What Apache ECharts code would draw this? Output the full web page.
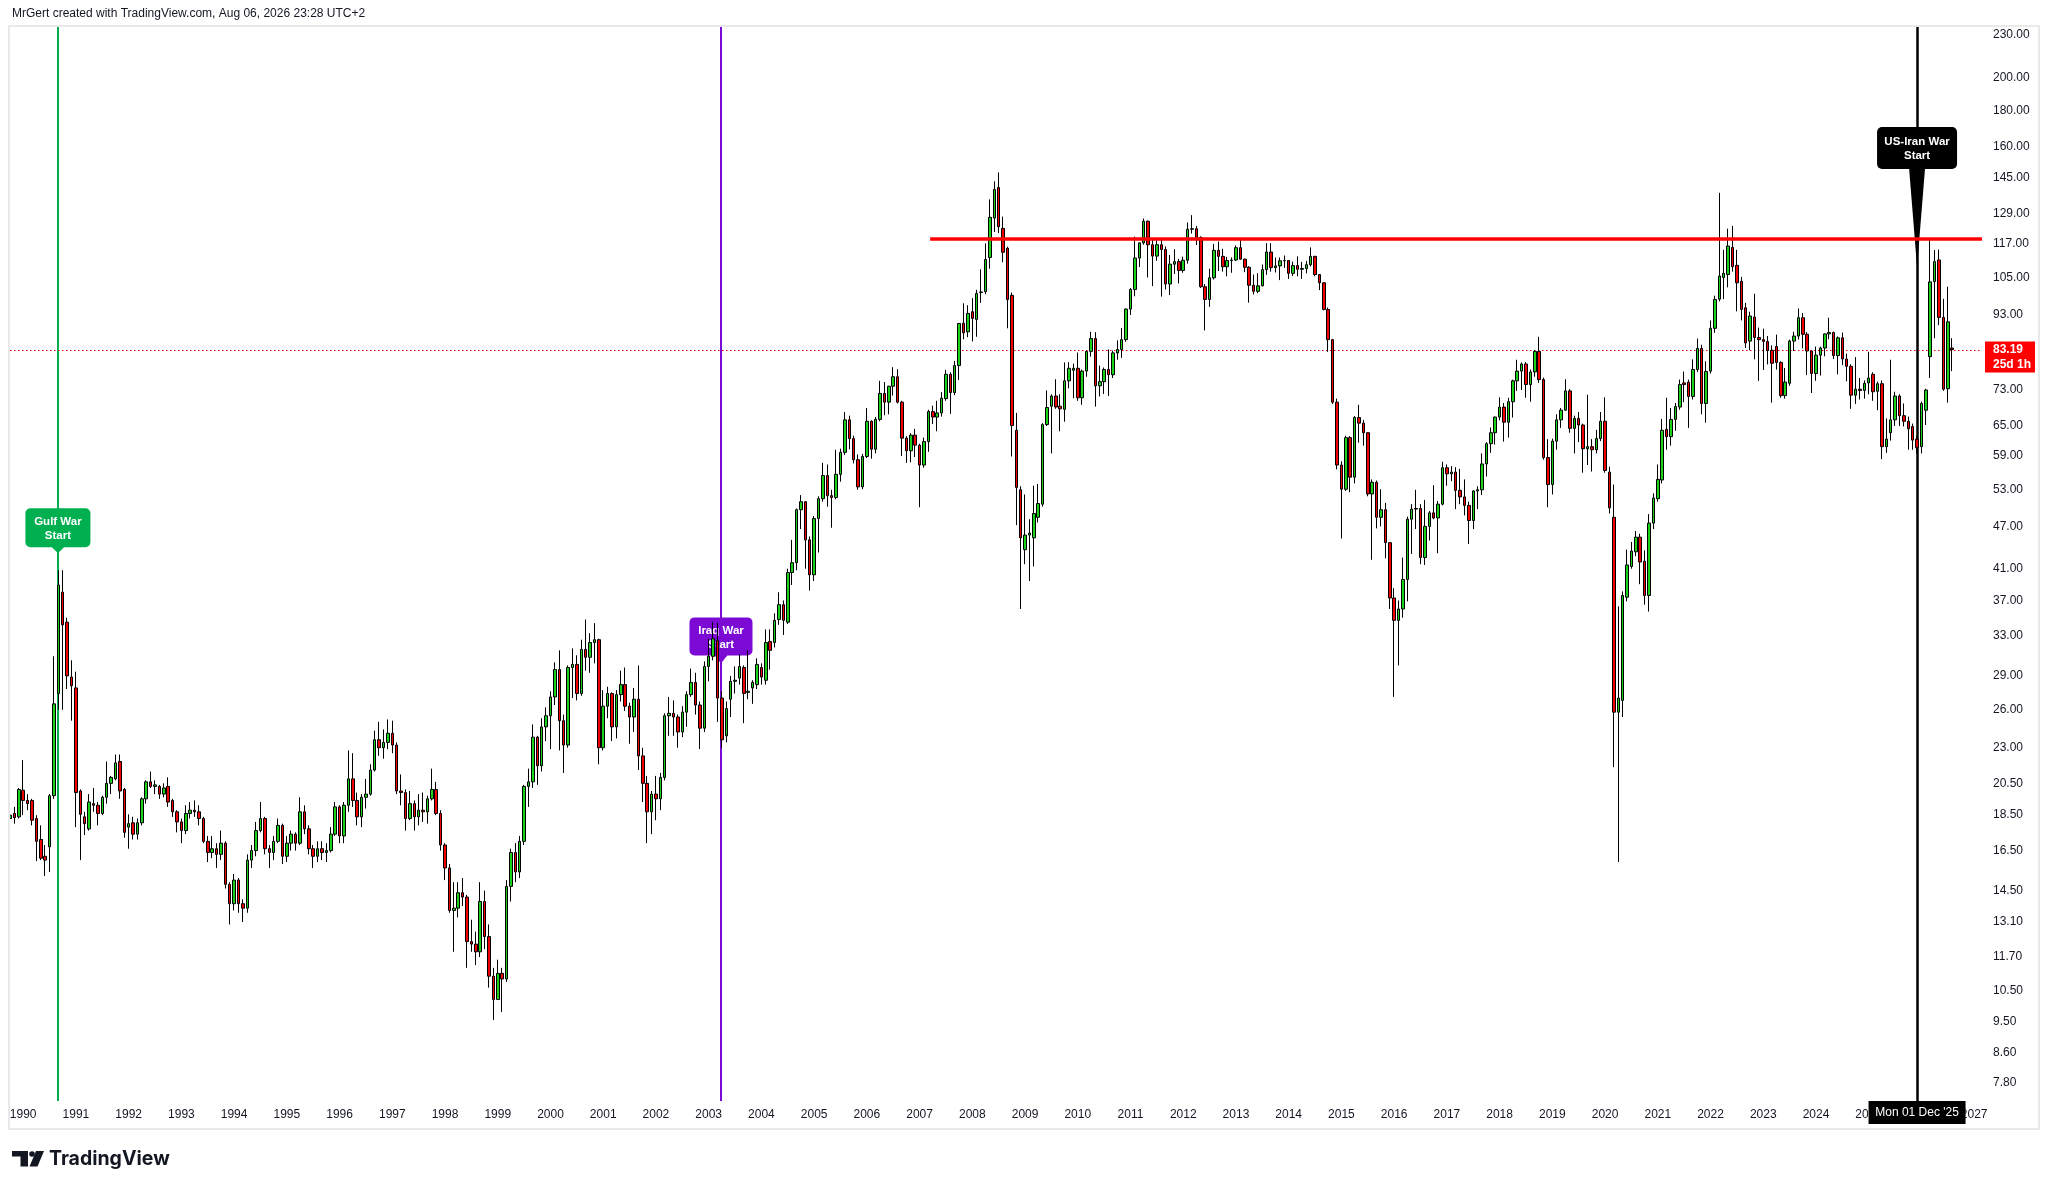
<!DOCTYPE html>
<html>
<head>
<meta charset="utf-8">
<script src="https://cdn.jsdelivr.net/npm/echarts@6/dist/echarts.min.js"></script>
<style>
html,body{margin:0;padding:0;background:#ffffff;}
#chart{width:2048px;height:1189px;}
</style>
</head>
<body>
<div id="chart"></div>
<script>
// Monthly candles, each row = [open, close, low, high]
const BRENT_1989 = [[18.3,18.5,18.1,18.7],[18.6,18.35,18.0,19.0],[18.4,20.1,18.3,20.2]]; // Oct-Dec
const BRENT_1990 = [[20.05,19.4,18.5,22.1],[19.4,19.2,18.8,19.8],[19.4,18.2,17.9,19.5],[18.3,17.0,15.95,18.5],[17.1,16.1,16.0,17.9],[16.2,16.0,15.2,16.8],[16.7,19.7,15.4,19.8],[19.7,26.5,19.5,30.9],[27.4,38.9,26.0,40.8],[38.0,34.2,26.0,40.8],[34.5,29.0,27.8,35.0],[28.9,28.1,25.1,30.5]];
const BRENT_1991 = [[27.9,19.9,17.8,29.4],[20.0,18.55,16.0,20.1],[18.4,18.0,17.35,18.7],[17.7,19.3,17.6,19.8],[19.2,19.1,18.7,20.2],[19.1,18.6,17.9,19.3],[18.6,19.6,18.5,19.7],[19.6,20.5,19.2,22.0],[20.5,20.9,19.8,21.0],[20.8,21.9,20.7,22.5],[22.0,20.0,19.5,22.5],[20.1,17.5,17.2,20.2]];
const BRENT_1992 = [[17.8,18.0,16.6,18.55],[18.05,17.4,17.1,18.4],[17.4,18.05,17.1,18.3],[18.05,19.5,17.9,19.6],[19.5,20.6,19.2,20.7],[20.6,20.3,20.2,21.3],[20.3,20.4,19.8,20.7],[20.3,19.8,19.5,20.4],[19.8,20.2,19.6,20.5],[20.3,19.3,19.0,20.9],[19.4,18.7,18.4,19.5],[18.7,18.1,17.5,18.8]];
const BRENT_1993 = [[18.1,17.6,16.9,18.3],[17.6,18.6,17.4,19.1],[18.6,18.8,18.3,19.3],[18.8,18.7,18.4,19.4],[18.7,18.3,17.9,19.1],[18.3,17.0,16.9,18.4],[17.0,16.4,15.9,17.3],[16.4,16.6,16.1,17.3],[16.6,16.3,15.6,16.9],[16.3,16.9,16.0,17.6],[16.9,14.8,14.6,17.0],[14.8,13.9,13.0,14.9]];
const BRENT_1994 = [[13.9,15.0,13.6,15.3],[15.0,13.9,13.5,15.1],[13.9,13.7,13.1,14.1],[13.7,16.0,13.5,16.3],[16.0,16.5,15.6,16.8],[16.5,17.6,16.2,18.1],[17.6,18.3,17.5,19.3],[18.3,16.6,16.3,18.4],[16.6,16.4,15.6,16.8],[16.4,17.0,16.0,17.3],[17.0,17.9,16.9,18.3],[17.9,16.2,15.8,18.0]];
const BRENT_1995 = [[16.2,16.9,15.9,17.3],[16.9,17.4,16.5,17.6],[17.4,16.9,16.5,17.5],[16.9,18.7,16.8,19.6],[18.7,17.7,17.4,19.1],[17.7,16.6,16.3,17.9],[16.6,16.2,15.6,16.8],[16.2,16.6,15.9,17.0],[16.6,16.4,16.0,17.0],[16.4,16.5,15.9,16.9],[16.5,17.4,16.4,17.8],[17.4,19.0,17.3,19.3]];
const BRENT_1996 = [[19.0,17.3,16.9,19.1],[17.3,19.1,16.9,19.3],[19.1,20.8,18.7,22.8],[20.8,19.4,19.0,22.6],[19.4,18.4,17.9,19.9],[18.4,19.6,17.8,19.8],[19.6,19.8,18.9,20.8],[19.8,21.4,19.7,21.8],[21.4,23.6,21.3,24.3],[23.6,23.0,22.4,25.0],[23.0,23.4,22.2,24.4],[23.4,24.1,22.9,25.2]];
const BRENT_1997 = [[24.1,23.2,22.6,25.1],[23.2,20.0,19.8,23.4],[20.0,19.9,19.1,21.1],[19.9,18.3,17.6,20.1],[18.3,19.2,18.2,20.0],[19.2,18.4,17.6,19.4],[18.4,18.8,17.9,19.8],[18.8,18.7,18.1,19.9],[18.7,19.5,18.0,19.7],[19.5,20.1,19.4,21.5],[20.1,18.6,18.5,20.6],[18.6,16.8,16.5,18.8]];
const BRENT_1998 = [[16.8,15.6,15.0,16.9],[15.6,13.6,13.5,15.8],[13.6,13.7,11.9,14.9],[13.7,14.4,13.3,14.9],[14.4,14.2,13.8,15.1],[14.2,12.3,11.3,14.3],[12.3,12.2,11.9,13.2],[12.2,11.9,11.4,12.7],[11.9,14.0,11.7,14.9],[14.0,12.5,12.0,14.5],[12.5,11.0,10.6,13.0],[11.0,10.2,9.55,11.3]];
const BRENT_1999 = [[10.2,11.1,10.2,11.6],[11.1,10.9,9.8,11.3],[10.9,14.7,10.8,15.0],[14.7,16.4,14.0,16.6],[16.4,15.4,14.9,16.9],[15.4,17.0,15.1,17.3],[17.0,20.3,16.8,20.4],[20.3,20.6,19.0,21.5],[20.6,23.8,20.2,24.8],[23.8,21.7,20.4,23.9],[21.7,24.6,21.3,25.3],[24.6,25.5,23.5,26.2]];
const BRENT_2000 = [[25.5,27.1,22.9,27.6],[27.1,29.6,26.4,30.3],[29.6,25.1,22.8,31.5],[25.1,23.2,21.2,25.6],[23.2,29.8,23.0,30.0],[29.8,30.1,27.0,31.7],[30.1,27.4,26.8,31.0],[27.4,31.6,27.2,32.6],[31.6,30.8,29.5,34.8],[30.8,32.3,29.3,33.3],[32.3,32.6,30.2,34.4],[32.6,23.0,21.8,32.7]];
const BRENT_2001 = [[23.0,26.3,22.8,27.7],[26.3,27.4,25.3,28.0],[27.4,24.6,23.5,27.5],[24.6,27.3,23.7,27.7],[27.3,28.2,26.7,29.5],[28.2,26.3,25.9,29.8],[26.3,25.4,23.3,26.6],[25.4,26.9,24.2,27.9],[26.9,22.4,21.4,30.0],[22.4,20.5,19.3,23.0],[20.5,18.7,16.9,21.0],[18.7,19.8,17.4,20.0]];
const BRENT_2002 = [[19.8,19.5,18.2,21.0],[19.5,20.9,18.8,21.2],[20.9,25.5,20.7,25.7],[25.5,25.7,23.9,27.1],[25.7,25.4,23.9,26.8],[25.4,24.2,23.0,25.6],[24.2,25.8,23.8,26.3],[25.8,27.3,24.6,27.6],[27.3,28.4,27.1,29.7],[28.4,26.4,25.6,29.3],[26.4,24.5,22.9,26.7],[24.5,29.9,24.2,30.4]];
const BRENT_2003 = [[29.9,30.9,28.5,32.7],[30.9,32.7,30.5,34.5],[32.5,27.0,25.0,34.4],[27.0,23.6,23.0,27.6],[23.9,26.1,23.4,26.7],[26.9,28.5,25.4,29.0],[28.5,28.6,27.4,29.9],[28.8,29.9,28.2,31.1],[29.8,27.4,24.9,30.0],[27.5,27.6,26.9,31.5],[27.9,28.4,26.5,28.6],[28.2,30.1,27.8,30.7]];
const BRENT_2004 = [[29.8,28.9,28.2,30.2],[28.6,32.3,28.2,33.7],[32.4,31.5,29.6,33.7],[32.3,34.7,31.8,35.5],[34.8,36.5,34.2,38.0],[36.5,34.7,33.1,37.0],[34.5,40.5,34.3,41.0],[40.5,41.8,38.9,45.0],[41.8,49.6,40.8,49.8],[49.6,50.9,46.6,52.0],[50.9,45.0,41.0,51.0],[45.0,40.2,38.2,45.5]];
const BRENT_2005 = [[40.2,48.2,39.4,48.6],[48.2,51.4,43.2,51.8],[51.4,55.4,50.9,57.7],[55.4,51.9,50.1,57.4],[51.9,51.6,46.8,52.9],[51.6,55.6,51.3,60.2],[55.6,59.7,54.3,60.4],[59.7,66.3,59.2,68.0],[66.3,62.4,60.3,67.2],[62.4,58.3,57.6,63.0],[58.3,53.4,52.9,59.3],[53.4,58.9,53.0,59.4]];
const BRENT_2006 = [[58.9,66.0,58.6,68.9],[66.0,60.3,58.5,66.2],[60.3,66.4,59.5,66.9],[66.4,72.2,66.0,75.2],[72.2,70.2,67.3,74.9],[70.2,73.9,67.5,74.0],[73.9,76.2,71.7,78.6],[76.2,70.2,69.9,78.1],[70.2,62.5,59.0,70.5],[62.5,60.0,57.7,62.9],[60.0,63.1,57.8,63.5],[63.1,61.1,58.8,64.4]];
const BRENT_2007 = [[61.1,57.3,50.0,61.4],[57.3,61.8,56.8,62.6],[61.8,68.1,59.8,68.5],[68.1,66.9,65.4,69.4],[66.9,67.8,63.9,70.5],[67.8,71.1,67.0,72.5],[71.0,76.8,70.5,77.9],[76.8,72.4,67.6,77.3],[72.4,79.0,71.8,80.2],[79.0,90.5,75.4,90.6],[90.6,87.8,86.0,96.6],[88.1,93.5,86.6,96.0]];
const BRENT_2008 = [[94.0,92.0,85.4,98.2],[91.7,99.7,86.7,100.9],[100.0,100.2,96.7,107.8],[100.3,111.3,99.5,117.2],[112.0,127.5,108.0,135.1],[127.2,139.5,121.6,143.2],[140.4,123.7,121.2,147.4],[123.0,113.9,110.3,127.8],[115.4,97.8,89.1,116.0],[99.1,65.1,58.9,100.0],[64.1,53.3,47.2,67.8],[52.9,45.3,36.0,53.5]];
const BRENT_2009 = [[43.6,45.7,41.6,52.1],[45.7,46.0,39.4,48.1],[45.3,49.0,41.3,53.6],[48.4,50.6,47.6,53.9],[50.5,65.3,50.1,65.6],[65.3,69.0,65.0,72.9],[69.3,71.6,59.5,72.0],[71.6,69.1,68.7,75.6],[69.3,68.7,63.9,72.0],[68.6,75.2,65.9,79.8],[75.2,78.3,73.4,79.9],[77.8,78.3,71.1,79.5]];
const BRENT_2010 = [[78.3,71.2,70.5,82.4],[71.2,77.6,69.6,78.0],[77.6,82.7,76.2,82.9],[82.7,86.2,81.3,88.1],[86.2,74.0,69.2,88.0],[74.0,75.0,71.5,79.0],[75.0,78.0,72.1,78.5],[78.0,76.7,71.6,83.2],[76.7,82.3,75.9,82.9],[82.3,83.2,80.5,85.7],[83.2,85.9,81.0,89.2],[85.9,94.8,85.3,95.0]];
const BRENT_2011 = [[94.8,101.0,93.0,101.5],[101.0,111.8,98.8,119.8],[111.8,117.4,108.6,117.6],[117.4,125.9,116.7,127.0],[125.9,116.7,105.0,126.2],[116.7,112.5,102.1,118.9],[112.5,116.7,110.8,119.0],[116.7,114.9,98.7,118.6],[114.9,102.8,101.0,116.1],[102.8,109.6,99.2,112.9],[109.6,110.5,106.2,115.0],[110.5,107.4,103.0,111.5]];
const BRENT_2012 = [[107.4,111.0,106.6,112.3],[111.0,122.7,109.8,125.4],[122.7,122.9,121.0,128.4],[122.9,119.5,116.6,124.0],[119.5,101.9,101.5,119.9],[101.9,97.8,88.5,102.8],[97.8,104.9,95.5,108.0],[104.9,114.6,104.3,117.0],[114.6,112.4,107.2,117.9],[112.4,108.7,107.0,115.2],[108.7,110.9,105.4,112.2],[110.9,111.1,106.6,112.0]];
const BRENT_2013 = [[111.1,115.6,110.7,116.4],[115.6,111.4,111.2,119.2],[111.4,108.5,106.8,111.6],[108.5,102.4,96.8,108.9],[102.4,100.4,99.4,106.0],[100.4,102.2,99.8,106.5],[102.2,107.7,102.0,109.5],[107.7,114.0,105.9,117.3],[114.0,108.4,107.0,117.3],[108.4,109.0,106.7,112.0],[109.0,110.8,104.1,112.0],[110.8,110.9,108.3,112.7]];
const BRENT_2014 = [[110.9,106.4,104.5,111.0],[106.4,109.1,105.5,110.5],[109.1,107.8,105.4,112.4],[107.8,108.1,104.5,110.4],[108.1,109.4,106.4,110.7],[109.4,112.4,108.8,115.7],[112.4,106.0,105.4,112.6],[106.0,103.2,100.8,106.1],[103.2,94.7,94.4,103.4],[94.7,85.9,82.6,95.3],[85.9,70.2,69.8,86.1],[70.2,57.3,56.5,71.0]];
const BRENT_2015 = [[57.3,53.0,45.2,58.0],[53.0,62.6,52.7,63.0],[62.6,55.1,52.5,62.9],[55.1,66.8,54.0,67.1],[66.8,65.6,61.6,69.6],[65.6,63.6,61.0,66.3],[63.6,52.2,51.8,63.7],[52.2,54.2,42.2,54.7],[54.2,48.4,46.7,54.5],[48.4,49.6,47.0,53.0],[49.6,44.6,42.4,50.7],[44.6,37.3,36.0,44.7]];
const BRENT_2016 = [[37.3,34.7,27.1,38.5],[34.7,36.0,30.0,37.0],[36.0,39.6,35.0,42.5],[39.6,48.1,36.9,48.5],[48.1,49.7,43.0,50.5],[49.7,49.8,46.6,52.9],[49.8,42.5,41.6,50.5],[42.5,47.0,41.5,51.2],[47.0,49.1,44.9,49.4],[49.1,48.3,48.1,53.7],[48.3,50.5,43.1,51.0],[50.5,56.8,50.3,57.9]];
const BRENT_2017 = [[56.8,55.7,53.6,57.4],[55.7,56.0,54.4,57.1],[56.0,52.8,49.7,56.9],[52.8,51.7,50.5,56.6],[51.7,50.3,48.7,54.7],[50.3,47.9,44.4,50.9],[47.9,52.7,46.6,52.8],[52.7,52.9,49.7,53.5],[52.9,57.5,52.0,59.5],[57.5,61.4,55.2,61.7],[61.4,63.6,59.6,64.7],[63.6,66.9,61.2,67.0]];
const BRENT_2018 = [[66.9,69.1,66.2,71.3],[69.1,65.8,61.8,70.0],[65.8,70.3,62.6,71.2],[70.3,75.2,66.8,75.5],[75.2,77.6,72.8,80.5],[77.6,79.4,73.0,79.8],[79.4,74.3,71.2,79.9],[74.3,77.4,70.3,78.0],[77.4,82.7,76.2,83.1],[82.7,75.5,74.7,86.7],[75.5,58.7,58.3,76.0],[58.7,53.8,50.0,62.3]];
const BRENT_2019 = [[53.8,61.9,52.1,62.4],[61.9,66.3,60.2,67.5],[66.3,68.4,64.6,68.9],[68.4,72.8,68.3,75.6],[72.8,64.5,63.6,73.2],[64.5,66.6,59.5,67.2],[66.6,65.2,61.7,68.0],[65.2,60.4,55.9,65.5],[60.4,60.8,57.3,71.9],[60.8,60.2,56.1,62.3],[60.2,62.4,59.5,64.2],[62.4,66.0,61.9,68.0]];
const BRENT_2020 = [[66.0,56.3,55.9,71.3],[56.0,49.9,49.0,57.0],[48.4,25.8,21.6,53.8],[25.8,27.0,15.9,36.3],[26.8,37.6,25.4,38.1],[37.4,41.5,36.9,43.6],[41.3,43.4,41.0,44.7],[43.3,45.4,42.7,46.3],[45.4,41.9,39.0,45.9],[42.0,37.6,36.5,43.5],[37.6,47.5,35.7,48.9],[47.5,51.5,46.6,52.3]];
const BRENT_2021 = [[51.4,54.7,50.9,57.4],[54.6,64.1,54.0,66.5],[64.3,62.8,60.2,71.2],[62.8,66.4,61.0,68.9],[66.4,69.2,64.0,70.0],[69.1,74.3,68.5,75.5],[74.7,74.3,70.2,77.5],[74.9,71.5,64.6,75.5],[71.5,78.0,70.8,80.6],[78.0,83.5,77.4,86.2],[83.5,69.9,67.5,84.5],[69.9,77.5,65.7,80.1]];
const BRENT_2022 = [[77.6,89.1,77.0,91.4],[89.1,97.8,87.8,99.0],[97.9,105.5,97.2,138.0],[105.0,106.4,97.9,114.8],[106.0,116.2,101.7,122.9],[115.7,108.7,107.0,124.0],[109.2,103.2,94.1,114.8],[103.7,94.7,91.4,105.2],[95.2,85.0,83.6,96.7],[85.5,92.7,83.0,94.0],[92.4,86.5,80.6,99.6],[86.5,85.9,75.2,89.3]];
const BRENT_2023 = [[85.9,85.4,77.9,89.0],[85.4,82.9,79.3,86.9],[83.0,79.6,70.1,84.3],[84.0,79.8,78.0,87.3],[79.8,71.7,71.2,80.1],[71.7,74.9,71.0,78.4],[74.6,85.5,74.0,85.9],[85.5,86.9,82.8,88.1],[86.9,92.2,85.9,95.0],[92.2,87.4,83.5,93.6],[87.4,82.8,76.6,88.0],[82.8,77.0,72.3,82.9]];
const BRENT_2024 = [[77.0,81.7,75.2,84.0],[81.7,83.6,76.5,84.0],[83.6,87.5,81.4,87.6],[87.5,87.9,86.0,92.2],[87.9,81.6,80.7,88.2],[81.6,86.4,76.8,86.8],[86.4,80.7,79.1,87.9],[80.7,78.8,75.1,82.1],[78.8,71.8,68.7,79.3],[71.8,73.2,69.8,81.2],[73.2,72.9,70.8,75.9],[72.9,74.6,71.0,75.3]];
const BRENT_2025 = [[74.7,75.9,72.0,82.6],[76.8,72.6,70.5,77.3],[72.7,74.5,68.4,75.0],[74.5,60.8,58.4,75.3],[60.8,62.3,59.6,66.6],[63.6,66.3,62.0,80.5],[66.3,71.6,65.0,72.6],[71.6,67.2,65.0,72.0],[67.2,66.0,64.9,69.9],[66.0,64.4,60.2,67.0],[64.9,62.1,60.2,65.5],[62.3,60.6,59.5,63.0]];
const BRENT_2026 = [[60.8,69.9,59.5,70.3],[68.4,73.0,65.2,73.3],[81.3,103.5,75.9,119.1],[103.6,110.5,86.3,114.7],[111.1,92.3,90.0,114.9],[92.3,73.2,72.8,98.0],[73.3,91.0,70.1,101.9],[83.6,83.19,77.6,86.3]]; // Jan-Aug

const FIRST_MONTH = -3; // Oct 1989, months counted from Jan 1990
const Y_TICKS = [230,200,180,160,145,129,117,105,93,73,65,59,53,47,41,37,33,29,26,23,20.5,18.5,16.5,14.5,13.1,11.7,10.5,9.5,8.6,7.8];
const YEAR_LABELS = [1990,1991,1992,1993,1994,1995,1996,1997,1998,1999,2000,2001,2002,2003,2004,2005,2006,2007,2008,2009,2010,2011,2012,2013,2014,2015,2016,2017,2018,2019,2020,2021,2022,2023,2024,2025,2026,2027];
const EVENT_LABELS = ['Gulf War\nStart','Iraq War\nStart','US-Iran War\nStart'];
const EVENT_MONTH = [7.9, 158.8, 431];
const EVENT_TIP = [43.1, 30.2, 108.6];
const RESISTANCE = 119;
const RESISTANCE_FROM = 206.4;
const LAST_PRICE = 83.19;
const LAST_PRICE_NOTE = '25d 1h';
const CURSOR_DATE = "Mon 01 Dec '25";
const HEADER = 'MrGert created with TradingView.com, Aug 06, 2026 23:28 UTC+2';

const OHLC = [].concat(BRENT_1989,BRENT_1990,BRENT_1991,BRENT_1992,BRENT_1993,BRENT_1994,BRENT_1995,BRENT_1996,BRENT_1997,BRENT_1998,BRENT_1999,
  BRENT_2000,BRENT_2001,BRENT_2002,BRENT_2003,BRENT_2004,BRENT_2005,BRENT_2006,BRENT_2007,BRENT_2008,BRENT_2009,
  BRENT_2010,BRENT_2011,BRENT_2012,BRENT_2013,BRENT_2014,BRENT_2015,BRENT_2016,BRENT_2017,BRENT_2018,BRENT_2019,
  BRENT_2020,BRENT_2021,BRENT_2022,BRENT_2023,BRENT_2024,BRENT_2025,BRENT_2026);

const LN = Math.log;
const X_MIN = -3.004, X_MAX = 445.78;
const Y_MIN = 1.9948, Y_MAX = 5.4659;
const FONT = '"Liberation Sans", Arial, sans-serif';
const CALLOUT_STYLE = [
  {color:'#00b050', w:65, h:39, ptr:6, pw:14},
  {color:'#7a0ad4', w:63, h:38, ptr:8, pw:14},
  {color:'#000000', w:80, h:42, ptr:98, pw:16}
];
const LINE_COLORS = ['#00b050','#7a0ad4','#000000'];

const candleData = OHLC.map((r,i)=>[FIRST_MONTH+i, LN(r[0]), LN(r[1]), LN(r[2]), LN(r[3])]);

const chart = echarts.init(document.getElementById('chart'), null, {renderer:'canvas'});

const option = {
  animation:false,
  backgroundColor:'#ffffff',
  grid:{left:10, right:66, top:26, bottom:88, containLabel:false},
  xAxis:{
    type:'value', min:X_MIN, max:X_MAX,
    axisLine:{show:false}, axisTick:{show:false}, splitLine:{show:false},
    axisLabel:{
      customValues: YEAR_LABELS.map(y=>(y-1990)*12),
      formatter: v => String(YEAR_LABELS[0] + Math.round(v/12)),
      color:'#131722', fontSize:12, fontFamily:FONT, margin:8
    }
  },
  yAxis:{
    type:'value', position:'right', min:Y_MIN, max:Y_MAX,
    axisLine:{show:false}, axisTick:{show:false}, splitLine:{show:false},
    axisLabel:{
      customValues: Y_TICKS.map(LN),
      formatter: v => Math.exp(v).toFixed(2),
      color:'#131722', fontSize:12, fontFamily:FONT, align:'left', margin:11
    }
  },
  series:[
    {
      type:'line', data:[], z:1, silent:true,
      markLine:{
        z:1, silent:true, symbol:['none','none'], label:{show:false}, animation:false,
        data: EVENT_MONTH.map((m,i)=>({xAxis:m, lineStyle:{color:LINE_COLORS[i], width: i===2?2.5:2, type:'solid'}}))
          .concat([{yAxis:LN(LAST_PRICE), lineStyle:{color:'#f00000', width:1, type:[1.5,2.5]}}])
      }
    },
    {
      type:'custom', z:2, silent:true, clip:false,
      dimensions:['x','y','k'],
      encode:{x:0, y:1},
      data: EVENT_MONTH.map((m,i)=>[m, LN(EVENT_TIP[i]), i]),
      renderItem:(params, api)=>{
        const i = api.value(2);
        const p = api.coord([api.value(0), api.value(1)]);
        const st = CALLOUT_STYLE[i];
        const bx = p[0]-st.w/2, by = p[1]-st.ptr-st.h;
        return {type:'group', children:[
          {type:'rect', shape:{x:bx, y:by, width:st.w, height:st.h, r:5}, style:{fill:st.color}},
          {type:'polygon', shape:{points:[[p[0]-st.pw/2, by+st.h-1],[p[0]+st.pw/2, by+st.h-1],[p[0], p[1]]]}, style:{fill:st.color}},
          {type:'text', style:{text:EVENT_LABELS[i], x:p[0], y:by+st.h/2+1, fill:'#ffffff',
            font:'bold 11.5px ' + FONT, align:'center', verticalAlign:'middle', lineHeight:14}}
        ]};
      }
    },
    {
      type:'candlestick', z:3, data:candleData, barWidth:3,
      itemStyle:{color:'#1ad11a', color0:'#f00000', borderColor:'#000000', borderColor0:'#000000', borderColorDoji:'#000000', borderWidth:1}
    },
    {
      type:'line', data:[], z:4, silent:true,
      markLine:{
        z:4, silent:true, symbol:['none','none'], label:{show:false}, animation:false,
        data:[[{coord:[RESISTANCE_FROM, LN(RESISTANCE)]},{coord:[X_MAX, LN(RESISTANCE)]}]],
        lineStyle:{color:'#ff0000', width:3.5, type:'solid'}
      }
    }
  ]
};
chart.setOption(option);

// overlay texts and boxes placed through the chart's own coordinate conversion
const pd = chart.convertToPixel({gridIndex:0}, [EVENT_MONTH[2], LN(LAST_PRICE)]);
const dateX = pd[0], priceY = pd[1];
chart.setOption({
  graphic:[
    {type:'text', z:100, left:12, top:8, style:{text:HEADER, fill:'#131722', font:'12px ' + FONT}},
    {type:'rect', z:100, shape:{x:9, y:26, width:2030, height:1103}, style:{fill:'none', stroke:'#e9e9e9', lineWidth:2}},
    // date cursor label
    {type:'rect', z:101, shape:{x:dateX-48.5, y:1101, width:97, height:23}, style:{fill:'#000000'}},
    {type:'text', z:102, x:dateX, y:1112.5, style:{text:CURSOR_DATE, fill:'#ffffff', font:'12px ' + FONT, align:'center', verticalAlign:'middle'}},
    // last price label
    {type:'rect', z:101, shape:{x:1985, y:priceY-8, width:50, height:31}, style:{fill:'#ff0000'}},
    {type:'text', z:102, x:1993, y:priceY, style:{text:LAST_PRICE.toFixed(2), fill:'#ffffff', font:'bold 12px ' + FONT, align:'left', verticalAlign:'middle'}},
    {type:'text', z:102, x:1993, y:priceY+15, style:{text:LAST_PRICE_NOTE, fill:'#ffffff', font:'bold 12px ' + FONT, align:'left', verticalAlign:'middle'}},
    // TradingView logo
    {type:'rect', z:100, shape:{x:12, y:1151, width:16, height:5.5}, style:{fill:'#131722'}},
    {type:'rect', z:100, shape:{x:20.5, y:1151, width:7.5, height:15.5}, style:{fill:'#131722'}},
    {type:'circle', z:100, shape:{cx:32, cy:1154, r:2.8}, style:{fill:'#131722'}},
    {type:'polygon', z:100, shape:{points:[[36,1151],[44,1151],[37.5,1166.5],[29.5,1166.5]]}, style:{fill:'#131722'}},
    {type:'text', z:100, x:49, y:1159, style:{text:'TradingView', fill:'#131722', font:'700 19.5px Inter, ' + FONT, align:'left', verticalAlign:'middle'}}
  ]
});
</script>
</body>
</html>
